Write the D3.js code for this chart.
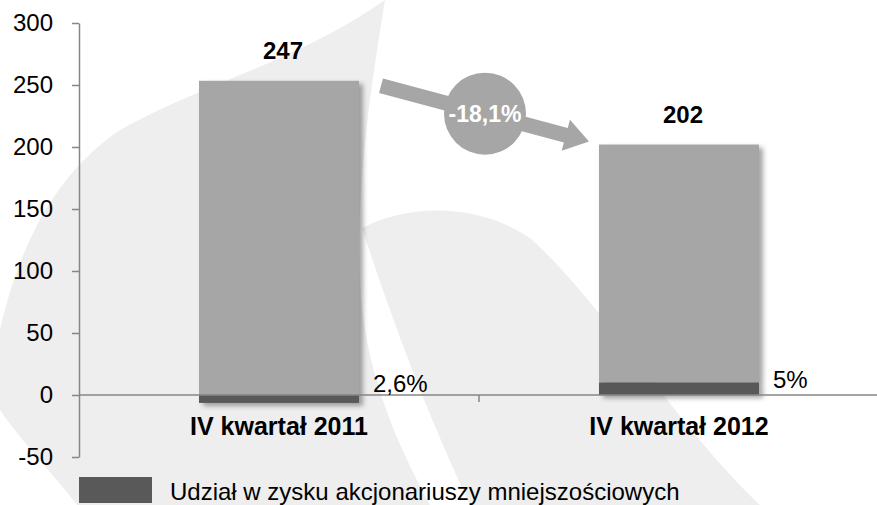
<!DOCTYPE html>
<html>
<head>
<meta charset="utf-8">
<script src="https://cdn.jsdelivr.net/npm/d3@7"></script>
<style>
  body { margin: 0; background: #fff; overflow: hidden; }
  svg { display: block; font-family: "Liberation Sans", Arial, sans-serif; }
</style>
</head>
<body>
<div class="stage"></div>
<script>
// data
var categories = ["IV kwartał 2011", "IV kwartał 2012"]
var totals = [247, 202]
var minorityValues = [-6.4, 10.1]      // udzial akcjonariuszy mniejszosciowych
var majorityValues = [253.4, 191.9]    // reszta slupka
var minorityLabels = ["2,6%", "5%"]
var yTicks = [-50, 0, 50, 100, 150, 200, 250, 300]
var changeLabel = "-18,1%"
var legendLabel = "Udział w zysku akcjonariuszy mniejszościowych"

var W = 877, H = 505
var barGray = "#a6a6a6", darkGray = "#595959", axisGray = "#868686"

var svg = d3.select(".stage")
  .append("svg")
  .attr("width", W)
  .attr("height", H)

var defs = svg.append("defs")
defs.append("filter")
  .attr("id", "shadow")
  .attr("x", "-10%").attr("y", "-10%")
  .attr("width", "130%").attr("height", "130%")
  .append("feDropShadow")
  .attr("dx", 4).attr("dy", 3)
  .attr("stdDeviation", 2.5)
  .attr("flood-color", "#000")
  .attr("flood-opacity", 0.35)

// faint logo in the background
var bg = svg.append("g").attr("fill", "#eeeeee")
bg.append("path")
  .attr("d", "M385,0 C372,80 356,180 360,280 C364,370 395,440 430,505 L77,505 C50,470 20,440 0,410 L0,330 C20,240 60,170 120,130 C200,85 300,60 385,0 Z")
bg.append("path")
  .attr("d", "M362,228 C400,208 470,198 530,238 C600,300 680,430 760,505 L470,505 C430,420 395,330 362,228 Z")

var y = d3.scaleLinear()
  .domain([-50, 300])
  .range([457, 23])

var x = d3.scaleBand()
  .domain(categories)
  .range([79, 879])

var barW = x.bandwidth() * 0.4

// y axis
var yAxis = svg.append("g")
  .attr("transform", "translate(79,0)")
  .call(d3.axisLeft(y).tickValues(yTicks).tickSize(7).tickSizeOuter(0).tickFormat(function(d){ return String(d) }))
yAxis.select(".domain").attr("stroke", axisGray).attr("stroke-width", 1.5)
yAxis.selectAll(".tick line").attr("stroke", axisGray).attr("stroke-width", 1.5)
yAxis.selectAll(".tick text")
  .attr("x", -26)
  .attr("fill", "#000")
  .style("font-size", "24px")
  .style("font-family", "'Liberation Sans', Arial, sans-serif")

// stacked bars
var rows = categories.map(function(c, i){
  return { cat: c, minority: minorityValues[i], majority: majorityValues[i] }
})
var series = d3.stack()
  .keys(["minority", "majority"])
  .offset(d3.stackOffsetDiverging)(rows)
var colors = { minority: darkGray, majority: barGray }

var bars = svg.selectAll("g.bar")
  .data(rows)
  .enter()
  .append("g")
  .attr("class", "bar")
  .attr("filter", "url(#shadow)")

bars.each(function(d, i){
  var g = d3.select(this)
  // majority first so that the dark segment sits on top
  ;["majority", "minority"].forEach(function(key){
    var s = series.find(function(s){ return s.key == key })[i]
    g.append("rect")
      .attr("x", x(d.cat) + (x.bandwidth() - barW) / 2)
      .attr("width", barW)
      .attr("y", y(Math.max(s[0], s[1])))
      .attr("height", Math.abs(y(s[0]) - y(s[1])))
      .attr("fill", colors[key])
  })
})

// x axis
svg.append("line")
  .attr("x1", 79).attr("x2", W)
  .attr("y1", y(0)).attr("y2", y(0))
  .attr("stroke", axisGray).attr("stroke-width", 1.5)
svg.append("line")
  .attr("x1", x(categories[1])).attr("x2", x(categories[1]))
  .attr("y1", y(0)).attr("y2", y(0) + 7)
  .attr("stroke", axisGray).attr("stroke-width", 1.5)

svg.selectAll("text.cat")
  .data(categories)
  .enter()
  .append("text")
  .attr("class", "cat")
  .attr("x", function(d){ return x(d) + x.bandwidth() / 2 })
  .attr("y", 435)
  .attr("text-anchor", "middle")
  .style("font-size", "25px")
  .style("font-weight", "bold")
  .text(function(d){ return d })

// totals above bars
svg.selectAll("text.total")
  .data(totals)
  .enter()
  .append("text")
  .attr("class", "total")
  .attr("x", function(d, i){ return x(categories[i]) + x.bandwidth() / 2 + 4 })
  .attr("y", function(d, i){ return y(d3.max([d, totals[i] - minorityValues[i]])) - 22 })
  .attr("text-anchor", "middle")
  .style("font-size", "24px")
  .style("font-weight", "bold")
  .text(function(d){ return d })

// minority share labels
svg.selectAll("text.share")
  .data(minorityLabels)
  .enter()
  .append("text")
  .attr("class", "share")
  .attr("x", function(d, i){ return x(categories[i]) + (x.bandwidth() + barW) / 2 + 14 })
  .attr("y", function(d, i){ return y(0) - (i == 0 ? 3 : 7) })
  .style("font-size", "24px")
  .text(function(d){ return d })

// arrow with the change bubble
var x0 = x(categories[0]) + (x.bandwidth() + barW) / 2 + 22
var y0 = y(majorityValues[0]) + 5
var x1 = x(categories[1]) + (x.bandwidth() - barW) / 2 - 10
var y1 = y(totals[1]) - 3
var len = Math.sqrt((x1 - x0) * (x1 - x0) + (y1 - y0) * (y1 - y0))
var ang = Math.atan2(y1 - y0, x1 - x0) * 180 / Math.PI
var sw = 7.5, hw = 16, hl = 24
svg.append("path")
  .attr("transform", "translate(" + x0 + "," + y0 + ") rotate(" + ang + ")")
  .attr("d", "M0," + (-sw) + " L" + (len - hl) + "," + (-sw) + " L" + (len - hl) + "," + (-hw) +
    " L" + len + ",0 L" + (len - hl) + "," + hw + " L" + (len - hl) + "," + sw + " L0," + sw + " Z")
  .attr("fill", barGray)

var cx = (x0 + x1) / 2, cy = (y0 + y1) / 2
svg.append("circle")
  .attr("cx", cx).attr("cy", cy)
  .attr("r", 41)
  .attr("fill", barGray)
svg.append("text")
  .attr("x", cx).attr("y", cy + 8)
  .attr("text-anchor", "middle")
  .attr("fill", "#fff")
  .style("font-size", "23px")
  .style("font-weight", "bold")
  .text(changeLabel)

// legend
svg.append("rect")
  .attr("x", 79).attr("y", 477)
  .attr("width", 73).attr("height", 26)
  .attr("fill", darkGray)
svg.append("text")
  .attr("x", 170).attr("y", 500)
  .style("font-size", "24px")
  .text(legendLabel)
</script>
</body>
</html>
